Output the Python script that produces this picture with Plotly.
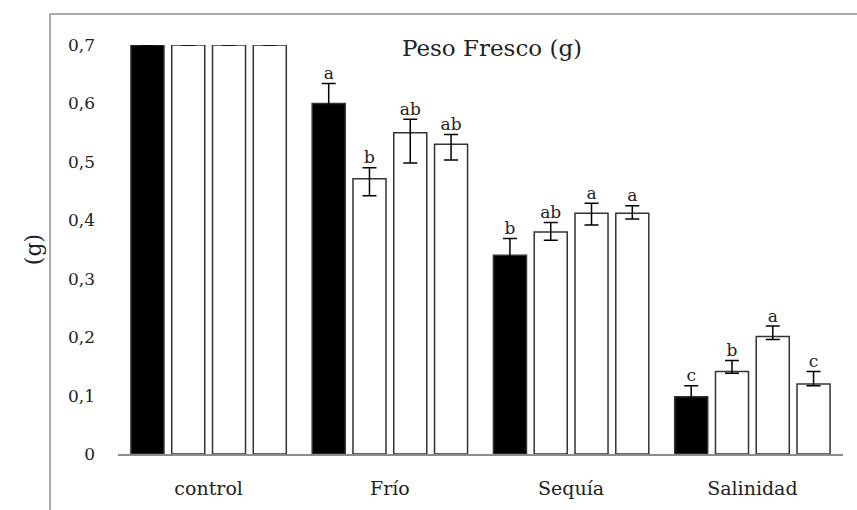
import plotly.graph_objects as go

categories = ["control", "Frío", "Sequía", "Salinidad"]
series_names = ["Serie 1", "Serie 2", "Serie 3", "Serie 4"]

s1 = [0.70, 0.60, 0.34, 0.098]
s2 = [0.70, 0.471, 0.38, 0.141]
s3 = [0.70, 0.55, 0.412, 0.201]
s4 = [0.70, 0.53, 0.412, 0.12]

s1_plus = [0, 0.034, 0.029, 0.019]
s1_minus = [0, 0.034, 0.029, 0.019]
s2_plus = [0, 0.019, 0.016, 0.019]
s2_minus = [0, 0.029, 0.014, 0.003]
s3_plus = [0, 0.023, 0.017, 0.018]
s3_minus = [0, 0.052, 0.020, 0.005]
s4_plus = [0, 0.017, 0.013, 0.021]
s4_minus = [0, 0.027, 0.010, 0.003]

s1_letters = ["", "a", "b", "c"]
s2_letters = ["", "b", "ab", "b"]
s3_letters = ["", "ab", "a", "a"]
s4_letters = ["", "ab", "a", "c"]

y_ticks = [0, 0.1, 0.2, 0.3, 0.4, 0.5, 0.6, 0.7]
y_tick_text = ["0", "0,1", "0,2", "0,3", "0,4", "0,5", "0,6", "0,7"]

FONT = "DejaVu Serif"
TXT = "#222222"
W, H = 857, 510
ML, MR, MT, MB = 118, 14, 45, 56

values = [s1, s2, s3, s4]
pluses = [s1_plus, s2_plus, s3_plus, s4_plus]
minuses = [s1_minus, s2_minus, s3_minus, s4_minus]
letters = [s1_letters, s2_letters, s3_letters, s4_letters]
fills = ["#000000", "#ffffff", "#ffffff", "#ffffff"]

fig = go.Figure()
for i in range(4):
    fig.add_trace(go.Bar(
        x=categories, y=values[i], name=series_names[i],
        marker=dict(color=fills[i], line=dict(color="#333333", width=1.5)),
        error_y=dict(type="data", symmetric=False, array=pluses[i], arrayminus=minuses[i],
                     color="#000000", thickness=1.5, width=7),
        offsetgroup=str(i), cliponaxis=False, showlegend=False,
    ))
for i in range(4):
    fig.add_trace(go.Scatter(
        x=categories, y=[v + p for v, p in zip(values[i], pluses[i])],
        mode="text", text=letters[i], textposition="top center",
        textfont=dict(family=FONT, size=17, color=TXT),
        offsetgroup=str(i), cliponaxis=False, showlegend=False, hoverinfo="skip",
    ))

ph = H - MT - MB
pw = W - ML - MR
fig.add_shape(type="line", xref="paper", yref="paper",
              x0=(50 - ML) / pw, x1=(50 - ML) / pw, y0=1 + (MT - 14) / ph, y1=-(MB + 5) / ph,
              line=dict(color="#8c8c8c", width=1.5))
fig.add_shape(type="line", xref="paper", yref="paper",
              x0=(50 - ML) / pw, x1=1 + (MR + 5) / pw, y0=1 + (MT - 14) / ph, y1=1 + (MT - 14) / ph,
              line=dict(color="#8c8c8c", width=1.5))

fig.add_annotation(text="Peso Fresco (g)", xref="paper", yref="paper",
                   x=(492 - ML) / pw, y=1 - (48 - MT) / ph, xanchor="center", yanchor="middle",
                   showarrow=False, font=dict(family=FONT, size=23, color=TXT))

fig.update_layout(
    width=W, height=H, margin=dict(l=ML, r=MR, t=MT, b=MB, pad=0, autoexpand=False),
    paper_bgcolor="white", plot_bgcolor="white",
    barmode="group", bargap=0.10, bargroupgap=0.19,
    scattermode="group", scattergap=0.10,
    font=dict(family=FONT, color=TXT),
    xaxis=dict(showline=True, linecolor="#8c8c8c", linewidth=1.5, ticks="",
               ticklabelstandoff=16,
               tickfont=dict(family=FONT, size=19, color=TXT), showgrid=False),
    yaxis=dict(range=[0, 0.7], tickvals=y_ticks, ticktext=y_tick_text, showgrid=False,
               zeroline=False, showline=False, ticks="", ticklabelstandoff=22,
               tickfont=dict(family=FONT, size=17, color=TXT),
               title=dict(text="(g)", font=dict(family=FONT, size=22, color=TXT), standoff=20)),
)

fig.write_html("out.html")
